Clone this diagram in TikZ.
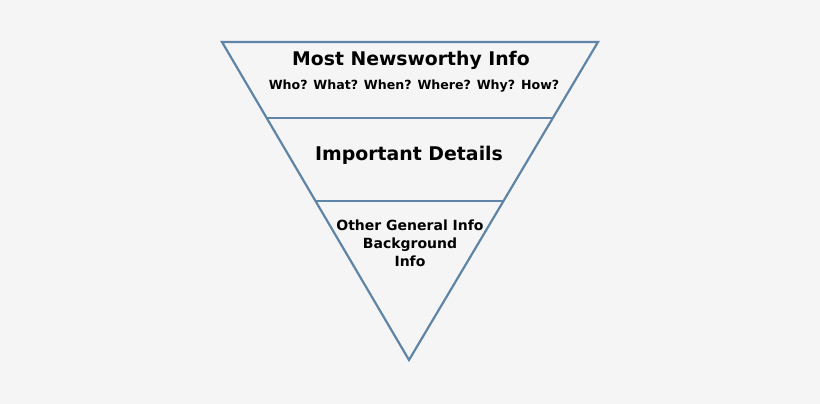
\documentclass[tikz,border=0pt]{standalone}
\usepackage{fontspec}
\setmainfont{DejaVu Sans}
\definecolor{bg}{HTML}{F5F5F5}
\definecolor{edge}{HTML}{5E84A8}
\begin{document}
\begin{tikzpicture}[x=1pt,y=-1pt,
  lbl/.style={font=\bfseries, align=center, inner sep=0pt}]
\fill[bg] (0,0) rectangle (820,404);
\useasboundingbox (0,0) rectangle (820,404);
\coordinate (tl) at (222,42);
\coordinate (tr) at (598,42);
\coordinate (b) at (409,360);
\draw[edge, line width=2.2pt, line join=miter] (tl) -- (tr) -- (b) -- cycle;
\coordinate (l1) at (266.7,118); \coordinate (r1) at (553,118);
\coordinate (l2) at (315.5,201); \coordinate (r2) at (502.5,201);
\draw[edge, line width=2.2pt] (l1) -- (r1);
\draw[edge, line width=2.2pt] (l2) -- (r2);
\node[lbl, font=\bfseries\fontsize{18.8}{22}\selectfont] (t1) at (411,60) {Most Newsworthy Info};
\node[lbl, font=\bfseries\fontsize{12.6}{15}\selectfont] (t2) at (414,86) {Who? What? When? Where? Why? How?};
\node[lbl, font=\bfseries\fontsize{18.9}{22}\selectfont] (t3) at (409,155) {Important Details};
\node[lbl, font=\bfseries\fontsize{14}{18}\selectfont] (t4) at (410,243) {Other General Info\\Background\\Info};
\end{tikzpicture}
\end{document}
